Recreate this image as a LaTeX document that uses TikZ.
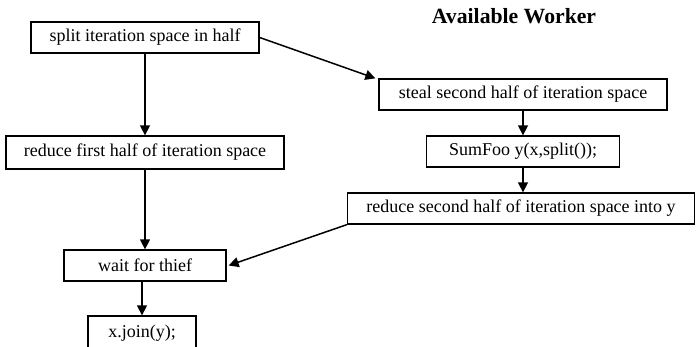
\documentclass[tikz,border=0pt]{standalone}
\usepackage{fontspec}
\setmainfont{Liberation Serif}
\usetikzlibrary{arrows.meta}
\tikzset{
  box/.style={draw, line width=1.3pt, rectangle, inner sep=0pt, minimum height=31pt,
    font=\fontsize{18}{20}\selectfont},
  arr/.style={line width=1.5pt, -{Triangle[length=10pt,width=10pt]}},
  title/.style={font=\fontsize{21.7}{24}\selectfont\bfseries}
}
\begin{document}
\begin{tikzpicture}[x=1pt,y=-1pt]
\useasboundingbox (0,0) rectangle (696,347);
\node[title] (tt) at (514,16) {Available Worker};
\node[box, minimum width=228pt] (split) at (145,37.5) {split iteration space in half};
\node[box, minimum width=288pt] (steal) at (523,94.5) {steal second half of iteration space};
\node[box, minimum width=193pt] (sum) at (523,151.5) {SumFoo y(x,split());};
\node[box, minimum width=278pt, minimum height=33pt] (red1) at (145,152.5) {reduce first half of iteration space};
\node[box, minimum width=347pt] (red2) at (521,208.5) {reduce second half of iteration space into y};
\node[box, minimum width=162pt] (wait) at (145,265.5) {wait for thief};
\node[box, minimum width=108pt, minimum height=34pt] (join) at (142,333) {x.join(y);};
\draw[arr] (split.south) -- (red1.north);
\draw[arr] (split.east) -- ([xshift=-3pt]steal.north west);
\draw[arr] (steal.south) -- (sum.north);
\draw[arr] (sum.south) -- (red2.north -| sum.south);
\draw[arr] (red1.south) -- (wait.north);
\draw[arr] (red2.south west) -- ([xshift=2pt]wait.east);
\draw[arr] (wait.south -| join.north) -- (join.north);
\end{tikzpicture}
\end{document}
